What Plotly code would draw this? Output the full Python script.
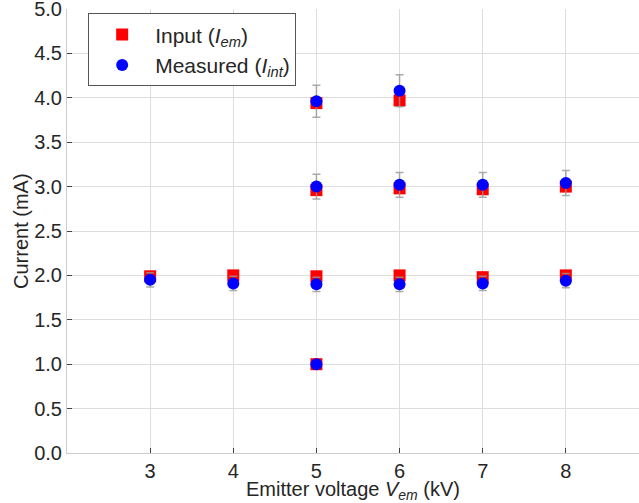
import plotly.graph_objects as go

# Input (I_em)
input_x = [3, 4, 5, 5, 5, 5, 6, 6, 6, 7, 7, 8, 8]
input_y = [1.99, 2.00, 3.94, 2.96, 1.99, 1.00, 3.97, 2.98, 2.00, 2.97, 1.98, 3.00, 2.00]

# Measured (I_int)
meas_x = [3, 4, 5, 5, 5, 5, 6, 6, 6, 7, 7, 8, 8]
meas_y = [1.95, 1.91, 3.96, 3.00, 1.90, 1.00, 4.08, 3.02, 1.90, 3.02, 1.91, 3.04, 1.94]
meas_err = [0.08, 0.08, 0.18, 0.14, 0.08, 0.04, 0.18, 0.14, 0.08, 0.14, 0.08, 0.14, 0.08]

x_ticks = [3, 4, 5, 6, 7, 8]
y_ticks = [0.0, 0.5, 1.0, 1.5, 2.0, 2.5, 3.0, 3.5, 4.0, 4.5, 5.0]

FONT = "Liberation Sans, Arial, sans-serif"
TXT = "#262626"
FS = 20

fig = go.Figure()
fig.add_trace(go.Scatter(
    x=input_x, y=input_y, mode="markers", name="Input (<i>I</i><sub><i>em</i></sub>)",
    marker=dict(symbol="square", size=12, color="#ff0000", line=dict(width=0)),
))
fig.add_trace(go.Scatter(
    x=meas_x, y=meas_y, mode="markers", name="Measured (<i>I</i><sub><i>int</i></sub>)",
    marker=dict(symbol="circle", size=12, color="#0000ff", line=dict(width=0)),
    error_y=dict(type="data", array=meas_err, visible=True, color="rgba(150,150,150,0.8)",
                 thickness=1.5, width=4),
))

fig.update_layout(
    width=639, height=503,
    margin=dict(l=67, r=0, t=9, b=50),
    paper_bgcolor="white", plot_bgcolor="white",
    font=dict(family=FONT, size=FS, color=TXT),
    showlegend=True,
    legend=dict(
        x=0.037, y=0.99, xanchor="left", yanchor="top",
        bgcolor="white", bordercolor="#555555", borderwidth=1,
        font=dict(size=21, color=TXT), itemwidth=56,
    ),
    xaxis=dict(
        range=[2.0, 8.88], tickvals=x_ticks, ticktext=[str(v) for v in x_ticks],
        showgrid=True, gridcolor="#dddddd", gridwidth=1,
        showline=True, linecolor="#cccccc", linewidth=1,
        ticks="inside", ticklen=5, tickcolor="#444444", tickwidth=1,
        zeroline=False, mirror=False, automargin=False, ticklabeloverflow="allow",
        title=dict(text="Emitter voltage <i>V</i><sub><i>em</i></sub> (kV)",
                   font=dict(size=FS, color=TXT)),
    ),
    yaxis=dict(
        range=[0, 5.0], tickvals=y_ticks, ticktext=[f"{v:.1f}" for v in y_ticks],
        showgrid=True, gridcolor="#dddddd", gridwidth=1,
        showline=True, linecolor="#cccccc", linewidth=1,
        ticks="inside", ticklen=5, tickcolor="#444444", tickwidth=1,
        zeroline=False, automargin=False, ticklabeloverflow="allow",
    ),
    annotations=[dict(
        text="Current (mA)", textangle=-90, showarrow=False,
        xref="paper", yref="paper", x=0, y=0.5, xanchor="center", yanchor="middle",
        xshift=-46, font=dict(size=FS, color=TXT),
    )],
)

fig.write_html("out.html", config={"displayModeBar": False},
               post_script="document.body.style.margin='0';")
